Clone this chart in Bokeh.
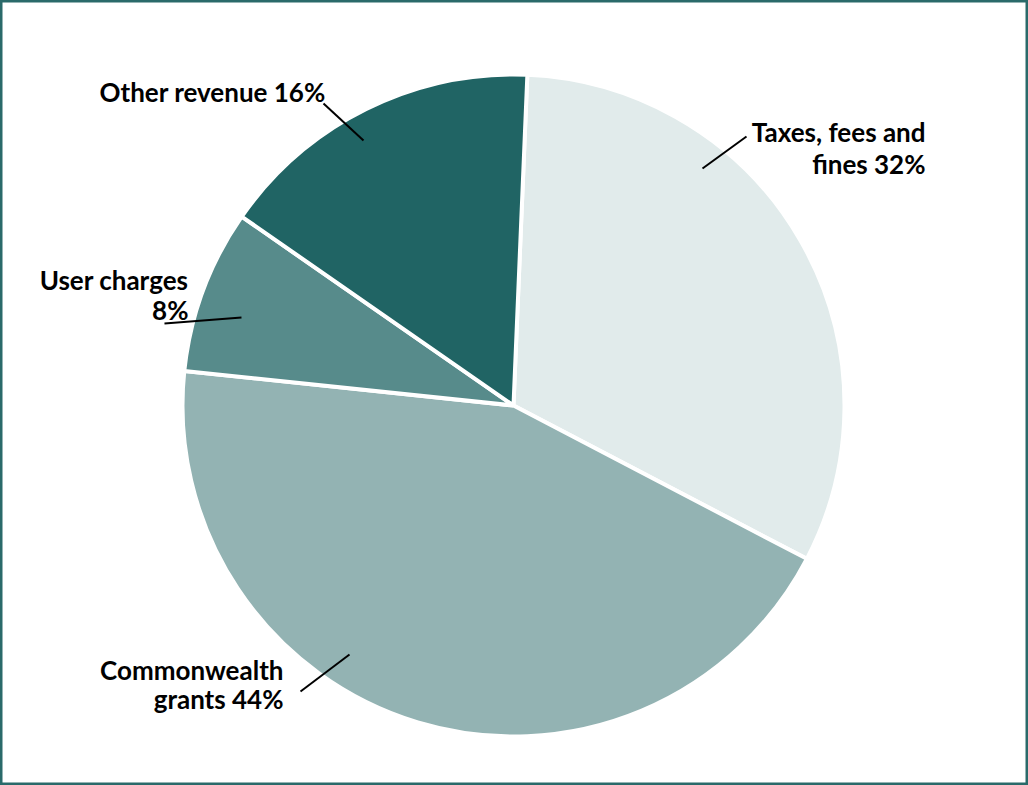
import math
from bokeh.plotting import figure
from bokeh.models import Range1d, ColumnDataSource
from bokeh.core.properties import value
from bokeh.embed import file_html
from bokeh.resources import INLINE

# ---- data ----
categories = ["Taxes, fees and fines", "Commonwealth grants", "User charges", "Other revenue"]
shares = [32, 44, 8, 16]
colors = ["#e1ebeb", "#93b3b3", "#578b8b", "#206464"]

# label text lines (per category), anchor & alignment (layout)
label_lines = [["Taxes, fees and", "fines 32%"], ["Commonwealth", "grants 44%"], ["User charges", "8%"], ["Other revenue 16%"]]
label_x = [925, 283, 188, 99]
label_baselines = [[131, 163], [669, 698], [279, 309], [91]]
label_align = ["right", "right", "right", "left"]
leader_from = [(746, 136), (300, 691), (164, 323), (323, 103)]
leader_to = [(702, 168), (349, 654), (241, 317), (363, 140)]

W, H = 1028, 785
CX, CY, R = 513, 405, 331
START_DEG = 2.4  # clockwise offset from 12 o'clock


def fy(y):
    return H - y


p = figure(width=W, height=H, output_backend="svg", toolbar_location=None,
           x_range=Range1d(0, W), y_range=Range1d(0, H), min_border=0)
p.axis.visible = False
p.grid.visible = False
p.outline_line_color = "#2a6a6a"
p.outline_line_width = 4
p.background_fill_color = "white"

total = sum(shares)
starts, ends = [], []
cum = 0
for v in shares:
    a0 = 90 - START_DEG - cum / total * 360
    a1 = a0 - v / total * 360
    starts.append(math.radians(a0))
    ends.append(math.radians(a1))
    cum += v

src = ColumnDataSource(dict(x=[CX] * len(shares), y=[fy(CY)] * len(shares),
                            start=starts, end=ends, color=colors, cat=categories))
p.wedge(x="x", y="y", radius=R, start_angle="start", end_angle="end", direction="clock",
        fill_color="color", line_color="white", line_width=4, source=src)

# leader lines
p.segment(x0=[a[0] for a in leader_from], y0=[fy(a[1]) for a in leader_from],
          x1=[b[0] for b in leader_to], y1=[fy(b[1]) for b in leader_to],
          line_color="black", line_width=2)

# labels
for lines, x, ys, al in zip(label_lines, label_x, label_baselines, label_align):
    for t, y in zip(lines, ys):
        p.text(x=[x], y=[fy(y)], text=[t], text_align=al, text_baseline="alphabetic",
               text_font=value("Lato"), text_font_style="bold", text_font_size="26px",
               text_color="black")

open("out.html", "w").write(file_html(p, INLINE))
